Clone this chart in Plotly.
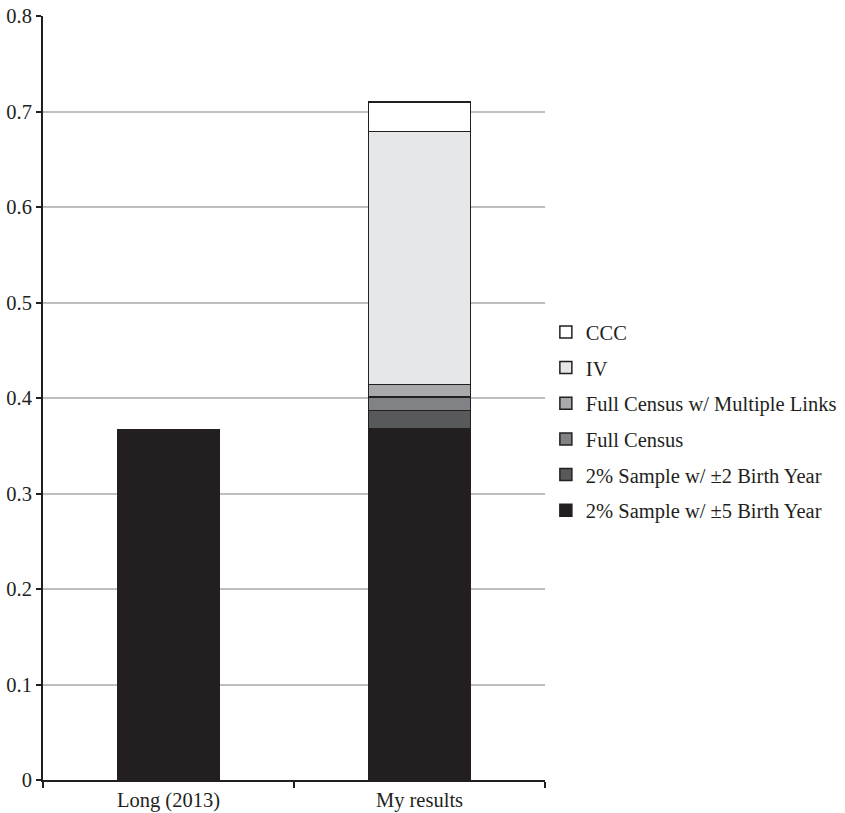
import plotly.graph_objects as go

categories = ["Long (2013)", "My results"]
series_names = [
    "2% Sample w/ ±5 Birth Year",
    "2% Sample w/ ±2 Birth Year",
    "Full Census",
    "Full Census w/ Multiple Links",
    "IV",
    "CCC",
]
series_values = [
    [0.367, 0.368],
    [None, 0.019],
    [None, 0.014],
    [None, 0.013],
    [None, 0.265],
    [None, 0.031],
]
series_colors = ["#231f20", "#58595b", "#808285", "#a7a9ac", "#e6e7e8", "#ffffff"]
y_ticks = [0, 0.1, 0.2, 0.3, 0.4, 0.5, 0.6, 0.7, 0.8]
y_tick_labels = ["0", "0.1", "0.2", "0.3", "0.4", "0.5", "0.6", "0.7", "0.8"]

fig = go.Figure()
n = len(series_names)
for i, (name, vals, col) in enumerate(zip(series_names, series_values, series_colors)):
    fig.add_trace(go.Bar(
        x=categories, y=vals, name=name, legendgroup=f"g{n - i}",
        legendrank=(n - i) * 10,
        marker=dict(color=col, line=dict(color="#231f20", width=1.5)),
    ))

fig.update_layout(
    barmode="stack",
    bargap=0.595,
    width=845, height=813,
    margin=dict(l=43, r=300, t=16, b=33),
    plot_bgcolor="white", paper_bgcolor="white",
    font=dict(family="Liberation Serif, Times New Roman, serif", size=20.5, color="#231f20"),
    showlegend=True,
    legend=dict(
        traceorder="grouped", xref="container", yref="container",
        x=0.646, xanchor="left", y=0.482, yanchor="middle",
        tracegroupgap=6, font=dict(size=20.5), itemwidth=30,
    ),
    xaxis=dict(
        automargin=False,
        showline=True, linecolor="#231f20", linewidth=2,
        ticks="outside", tickson="boundaries", ticklen=6, tickcolor="#231f20", tickwidth=1.5,
        showgrid=False, range=[-0.5, 1.5],
    ),
    yaxis=dict(
        automargin=False,
        range=[0, 0.8], tickvals=y_ticks, ticktext=y_tick_labels,
        showline=True, linecolor="#231f20", linewidth=2,
        ticks="outside", ticklen=5, tickcolor="#231f20", tickwidth=1.5,
        showgrid=True, gridcolor="#bcbec0", gridwidth=1.5, zeroline=False,
    ),
)

fig.write_html("out.html", config={"displayModeBar": False},
               post_script="document.body.style.margin='0';")
